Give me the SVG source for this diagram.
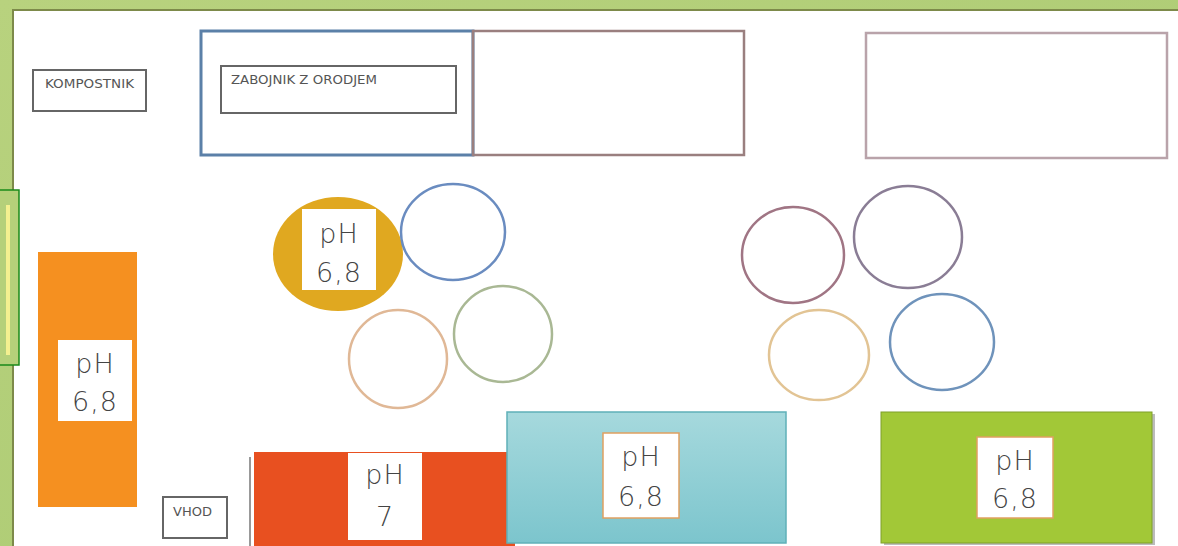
<svg xmlns="http://www.w3.org/2000/svg" width="1178" height="546" viewBox="0 0 1178 546">
<defs>
<linearGradient id="cyanG" x1="0" y1="0" x2="0" y2="1"><stop offset="0" stop-color="#a6d9dd"/><stop offset="1" stop-color="#7cc5cd"/></linearGradient>
<linearGradient id="bgG" x1="0" y1="0" x2="1" y2="1"><stop offset="0" stop-color="#b8d27e"/><stop offset="1" stop-color="#a9c970"/></linearGradient>
</defs>
<style>
.lbl{fill:#fff}
.ph{font-family:"DejaVu Sans",sans-serif;font-weight:200;font-size:27px;fill:#444;text-anchor:middle;letter-spacing:1px}
.small{font-family:"DejaVu Sans","Liberation Sans",sans-serif;font-size:11.5px;fill:#555}
.ring{fill:none;stroke-width:2.5}
.box{fill:#fff;stroke:#666;stroke-width:2}
</style>
<rect x="0" y="0" width="1178" height="546" fill="url(#bgG)"/>
<rect x="13" y="10" width="1170" height="540" fill="#fff" stroke="#7d8a4a" stroke-width="2"/>
<g id="side-marker">
<rect x="-2" y="190" width="21" height="175" fill="#b5d07a" stroke="#1a8a1a" stroke-width="1.5"/>
<rect x="6" y="205" width="4" height="150" fill="#f4f090"/>
</g>
<g id="kompostnik"><rect class="box" x="33" y="70" width="113" height="41"/><text class="small" x="45" y="88" textLength="89" lengthAdjust="spacingAndGlyphs">KOMPOSTNIK</text></g>
<g id="shed-blue"><rect x="201" y="31" width="272" height="124" fill="#fff" stroke="#5b80a8" stroke-width="3"/></g>
<g id="shed-brown"><rect x="473" y="31" width="271" height="124" fill="none" stroke="#9a7f7f" stroke-width="2.5"/></g>
<g id="zabojnik"><rect class="box" x="221" y="66" width="235" height="47"/><text class="small" x="231" y="84" textLength="146" lengthAdjust="spacingAndGlyphs">ZABOJNIK Z ORODJEM</text></g>
<g id="right-rect"><rect x="866" y="33" width="301" height="125" fill="#fff" stroke="#b9a3aa" stroke-width="2.5"/></g>
<g id="gold-bed">
<ellipse cx="338" cy="254" rx="65" ry="57" fill="#e0a820"/>
<rect class="lbl" x="302" y="209" width="74" height="81"/>
<text class="ph" x="339" y="243">pH</text><text class="ph" x="339" y="282">6,8</text>
</g>
<g id="circle-blue-l"><ellipse class="ring" cx="453" cy="232" rx="52" ry="48" stroke="#6a8cc0"/></g>
<g id="circle-green-l"><ellipse class="ring" cx="503" cy="334" rx="49" ry="48" stroke="#a9b894"/></g>
<g id="circle-tan-l"><ellipse class="ring" cx="398" cy="359" rx="49" ry="49" stroke="#e0b896"/></g>
<g id="circle-maroon-r"><ellipse class="ring" cx="793" cy="255" rx="51" ry="48" stroke="#a07584"/></g>
<g id="circle-purple-r"><ellipse class="ring" cx="908" cy="237" rx="54" ry="51" stroke="#8a7d95"/></g>
<g id="circle-tan-r"><ellipse class="ring" cx="819" cy="355" rx="50" ry="45" stroke="#e2c494"/></g>
<g id="circle-blue-r"><ellipse class="ring" cx="942" cy="342" rx="52" ry="48" stroke="#6f93bb"/></g>
<g id="orange-bed">
<rect x="38" y="252" width="99" height="255" fill="#f59020"/>
<rect class="lbl" x="58" y="340" width="74" height="81"/>
<text class="ph" x="95" y="373">pH</text><text class="ph" x="95" y="411">6,8</text>
</g>
<g id="vhod"><rect class="box" x="163" y="497" width="64" height="41" stroke="#777"/><text class="small" x="173" y="516" textLength="39" lengthAdjust="spacingAndGlyphs">VHOD</text></g>
<g id="gate-line"><line x1="250" y1="457" x2="250" y2="546" stroke="#777" stroke-width="1.5"/></g>
<g id="red-bed">
<rect x="254" y="452" width="261" height="100" fill="#e85020"/>
<rect class="lbl" x="348" y="453" width="74" height="87"/>
<text class="ph" x="385" y="484">pH</text><text class="ph" x="385" y="526">7</text>
</g>
<g id="cyan-bed">
<rect x="507" y="412" width="279" height="131" fill="url(#cyanG)" stroke="#5fb0b8" stroke-width="1.5"/>
<rect class="lbl" x="603" y="433" width="76" height="85" stroke="#e0a060" stroke-width="1.5"/>
<text class="ph" x="641" y="466">pH</text><text class="ph" x="641" y="506">6,8</text>
</g>
<g id="green-bed">
<rect x="884" y="414" width="271" height="131" fill="#7a7a7a" opacity="0.5"/>
<rect x="881" y="412" width="271" height="131" fill="#a2c837" stroke="#7ea02a" stroke-width="1"/>
<rect class="lbl" x="977" y="437" width="76" height="81" stroke="#e0a060" stroke-width="1.5"/>
<text class="ph" x="1015" y="470">pH</text><text class="ph" x="1015" y="508">6,8</text>
</g>
<g id="connectors"/>
</svg>
